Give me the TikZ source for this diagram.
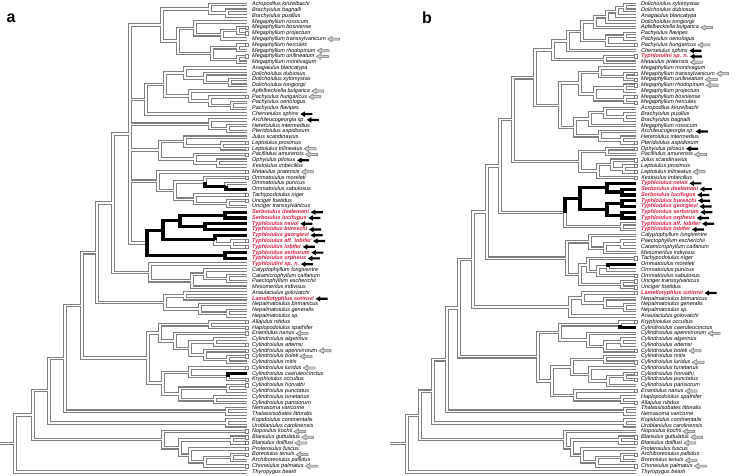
\documentclass[tikz,border=0pt]{standalone}
\usepackage{fontspec}
\setmainfont{Liberation Sans}
\usetikzlibrary{calc}
\definecolor{redlab}{RGB}{222,28,62}
\definecolor{brgray}{RGB}{128,128,128}
\newcommand\tnode[4]{\path let \p1=($(#3)!0.5!(#4)$) in coordinate (#1) at (#2pt,\y1);}
\newcommand\tedge[2]{\draw let \p1=(#1), \p2=(#2) in (\x1,\y1) -- (\x1,\y2) -- (\x2,\y2);}
\newcommand\tedges[3]{\tedge{#1}{#2}\tedge{#1}{#3}}
\newcommand\grayedgesL{%
\tedges{LB1}{a2}{a3}\tedges{LB2}{a1}{LB1}\tedges{LM3a}{a5}{a6}\tedges{LM3}{LM3a}{a7}\tedges{LM3g}{a4}{LM3}%
\tedges{LM4a}{a8}{a9}\tedges{LM4b}{a10}{a11}\tedges{LM4}{LM4a}{LM4b}\tedges{LMeg}{LM3g}{LM4}\tedges{Lc1}{LB2}{LMeg}%
\tedges{LD3}{a14}{a15}\tedges{LD2}{a13}{LD3}\tedges{LD1}{a12}{LD2}\tedges{LP3}{a18}{a19}\tedges{LP2}{a17}{LP3}%
\tedges{LP}{a16}{LP2}\tedges{LD}{LD1}{LP}\tedges{Lc2}{LD}{a20}\tedges{LH}{a22}{a23}\tedges{Lc3}{a21}{LH}%
\tedges{LL}{a25}{a26}\tedges{LJ}{a24}{LL}\tedges{LR}{a28}{a29}\tedges{LQ}{a27}{LR}\tedges{Lc4}{LJ}{LQ}%
\tedge{LOm2}{a32}\tedge{LOm}{a31}\tedges{LU}{a35}{a36}\tedges{LT}{a34}{LU}\tedges{LS}{LOm}{LT}\tedges{Lc5}{a30}{LS}%
\tedge{LTyG}{LTyL}\tedges{LTyL}{a42}{a43}%
\tedges{L130}{Lc1}{Lc2}\tedges{L130}{Lc3}{Lc4}\tedges{L130}{Lc5}{LTy}%
\tedges{LCal2}{a48}{a49}\tedges{LCal1}{a47}{LCal2}\tedges{LCal}{LCal1}{a50}\tedges{LY}{a46}{LCal}\tedges{L113}{L130}{LY}%
\tedges{LX1}{a51}{a52}\tedges{LN2}{a54}{a55}\tedges{LN}{a53}{LN2}\tedges{LX}{LX1}{LN}\tedges{L97}{L113}{LX}%
\tedges{LA}{a56}{a57}\tedges{LC1d}{a59}{a60}\tedges{LC1f}{a62}{a63}\tedges{LC1e}{a61}{LC1f}\tedges{LC1c}{LC1d}{LC1e}%
\tedges{LC1b}{a58}{LC1c}\tedges{LC1}{LA}{LC1b}\tedge{LC2b}{a66}\tedges{LC2a}{a64}{LC2b}\tedges{LC2d}{a67}{a68}%
\tedges{LC2e}{a69}{a70}\tedges{LC2c}{LC2d}{LC2e}\tedges{LC2}{LC2a}{LC2c}\tedges{LCyl}{LC1}{LC2}\tedges{L82}{L97}{LCyl}%
\tedges{LNT}{a71}{a72}\tedges{L65}{L82}{LNT}\tedges{LKU}{a73}{a74}\tedges{L49}{L65}{LKU}%
\tedges{LBl2}{a76}{a77}\tedges{LBl5}{a79}{a80}\tedges{LBl4}{LBl5}{a81}\tedges{LBl3}{a78}{LBl4}\tedges{LBl1}{LBl2}{LBl3}%
\tedges{LBlan}{a75}{LBl1}\tedges{L33}{L49}{LBlan}\tedges{Lroot}{L33}{a82}\draw (Lrs) -- (Lroot);%
}
\newcommand\grayedgesR{%
\tedges{RDg3}{b1}{b2}\tedges{RDg2}{RDg3}{b3}\tedges{RDg1}{RDg2}{b4}\tedges{RDg0}{RDg1}{b5}\tedges{RPa2}{b6}{b7}%
\tedges{RPa}{RPa2}{b8}\tedges{RDP}{RDg0}{RPa}\tedges{RDg}{RDP}{b9}\tedges{RTM}{b10}{b11}\tedges{RG1}{RDg}{RTM}%
\tedges{RMb}{b13}{b14}\tedges{RMa}{b12}{RMb}\tedges{RMd}{b15}{b16}\tedges{RMe}{b17}{b18}\tedges{RMc}{RMd}{RMe}%
\tedges{RMeg}{RMa}{RMc}\tedges{RBr2}{b20}{b21}\tedges{RBr1}{b19}{RBr2}\tedges{RBr}{RBr1}{b22}\tedges{RA2}{b24}{b25}%
\tedges{RA1}{b23}{RA2}\tedges{RBA}{RBr}{RA1}\tedges{RG2}{RMeg}{RBA}\tedges{RX8}{RG1}{RG2}%
\tedges{RO2}{b26}{b27}\tedges{RJ3}{b29}{b30}\tedges{RJ2}{b28}{RJ3}\tedges{RJ1}{RJ2}{b31}\tedges{RX9}{RO2}{RJ1}\tedges{R513}{RX8}{RX9}%
\tedge{RTy}{RTyL}\tedges{RTyL}{b39}{b40}\tedges{R500}{R513}{RTy}%
\tedges{RCa3}{b42}{b43}\tedges{RCa2}{RCa3}{b44}\tedges{RCa}{b41}{RCa2}\tedge{ROm1}{b47}\tedges{ROm}{ROm1}{b48}%
\tedges{RTo}{b45}{ROm}\tedges{RUn}{b49}{b50}\tedges{RTO}{RTo}{RUn}\tedges{RX6}{RCa}{RTO}\tedges{R487}{R500}{RX6}%
\tedges{RN2}{b53}{b54}\tedges{RN}{b52}{RN2}\tedges{RLa}{b51}{RN}\tedges{RX5}{RLa}{b55}\tedges{R473}{R487}{RX5}%
\tedge{RK}{b56}\tedges{RCy1d}{b59}{b60}\tedges{RCy1c}{RCy1d}{b61}\tedges{RCy1b}{b58}{RCy1c}\tedges{RCy1}{RK}{RCy1b}%
\tedges{RCy2a}{b62}{b63}\tedges{RCy2d}{b65}{b66}\tedges{RCy2c}{RCy2d}{b67}\tedges{RCy2b}{b64}{RCy2c}\tedges{RCy2}{RCy2a}{RCy2b}%
\tedges{RE2}{b69}{b70}\tedges{RE}{b68}{RE2}\tedges{RQ}{RCy2}{RE}\tedges{RX4}{RCy1}{RQ}\tedges{R459}{R473}{RX4}%
\tedges{RX3}{b71}{b72}\tedges{R447}{R459}{RX3}\tedges{RX2}{b73}{b74}\tedges{R433}{R447}{RX2}%
\tedges{RBl2}{b76}{b77}\tedges{RBl5}{b79}{b80}\tedges{RBl4}{RBl5}{b81}\tedges{RBl3}{b78}{RBl4}\tedges{RBl1}{RBl2}{RBl3}%
\tedges{RX1}{b75}{RBl1}\tedges{R420}{R433}{RX1}\tedges{Rroot}{R420}{b82}\draw (Rrs) -- (Rroot);%
}
\tikzset{
  labbase/.style={inner sep=0pt, anchor=west, text height=3.9pt, text depth=1.1pt},
  labn/.style={labbase, font=\fontsize{5.5}{6}\selectfont\itshape},
  labr/.style={labbase, font=\fontsize{5.5}{6}\selectfont\bfseries\itshape, text=redlab},
  sqmark/.style={draw=brgray, fill=white, line width=0.6pt, rectangle, minimum size=3.4pt, inner sep=0pt},
  panel/.style={font=\fontsize{16}{16}\selectfont\bfseries, inner sep=0pt},
  arrb/.pic={\fill[black] (0,0) -- (4.5,2.7) -- (4.5,1.1) -- (12,1.1) -- (12,-1.1) -- (4.5,-1.1) -- (4.5,-2.7) -- cycle;},
  arrg/.pic={\filldraw[fill=gray!40, draw=gray!90!black, line width=0.5pt] (0,0) -- (4.5,2.7) -- (4.5,1.1) -- (12,1.1) -- (12,-1.1) -- (4.5,-1.1) -- (4.5,-2.7) -- cycle;},
  arr0/.pic={}
}
\begin{document}
\begin{tikzpicture}[x=1pt,y=-1pt,line join=miter]
\useasboundingbox (0,0) rectangle (739,475);
\fill[white] (0,0) rectangle (739,475);
\foreach \k in {1,...,82}{
  \coordinate (a\k) at (247,{4.5+(\k-1)*5.77});
  \coordinate (b\k) at (636,{4.5+(\k-1)*5.77});
}
% ---------- left tree nodes
\tnode{LB1}{227}{a2}{a3}\tnode{LB2}{210}{a1}{LB1}
\tnode{LM3a}{238}{a5}{a6}\tnode{LM3}{222}{LM3a}{a7}\tnode{LM3g}{195}{a4}{LM3}
\tnode{LM4a}{238}{a8}{a9}\tnode{LM4b}{238}{a10}{a11}\tnode{LM4}{212}{LM4a}{LM4b}
\tnode{LMeg}{178}{LM3g}{LM4}\tnode{Lc1}{162}{LB2}{LMeg}
\tnode{LD3}{230}{a14}{a15}\tnode{LD2}{205}{a13}{LD3}\tnode{LD1}{185}{a12}{LD2}
\tnode{LP3}{232}{a18}{a19}\tnode{LP2}{210}{a17}{LP3}\tnode{LP}{190}{a16}{LP2}
\tnode{LD}{165}{LD1}{LP}\tnode{Lc2}{146}{LD}{a20}
\tnode{LH}{228}{a22}{a23}\tnode{Lc3}{210}{a21}{LH}
\tnode{LL}{222}{a25}{a26}\tnode{LJ}{185}{a24}{LL}\tnode{LR}{218}{a28}{a29}\tnode{LQ}{195}{a27}{LR}\tnode{Lc4}{160}{LJ}{LQ}
\tnode{LOm2}{226}{a32}{a33}\tnode{LOm}{205}{a31}{LOm2}\tnode{LU}{228}{a35}{a36}\tnode{LT}{195}{a34}{LU}
\tnode{LS}{175}{LOm}{LT}\tnode{Lc5}{158}{a30}{LS}
\tnode{LSB}{225}{a37}{a38}\tnode{LTyN}{205}{a39}{a40}\tnode{LTyA}{180}{LSB}{LTyN}
\tnode{LTyL}{232}{a42}{a43}\tnode{LTyG}{215}{a41}{LTyL}\tnode{LTyU}{163}{LTyA}{LTyG}
\tnode{LTyS}{225}{a44}{a45}\tnode{LTy}{147}{LTyU}{LTyS}
\tnode{L130}{130}{Lc1}{LTy}
\tnode{LCal2}{228}{a48}{a49}\tnode{LCal1}{205}{a47}{LCal2}\tnode{LCal}{192}{LCal1}{a50}\tnode{LY}{150}{a46}{LCal}
\tnode{L113}{113}{L130}{LY}
\tnode{LX1}{185}{a51}{a52}\tnode{LN2}{228}{a54}{a55}\tnode{LN}{200}{a53}{LN2}\tnode{LX}{165}{LX1}{LN}
\tnode{L97}{97}{L113}{LX}
\tnode{LA}{210}{a56}{a57}\tnode{LC1d}{215}{a59}{a60}\tnode{LC1f}{228}{a62}{a63}\tnode{LC1e}{205}{a61}{LC1f}
\tnode{LC1c}{190}{LC1d}{LC1e}\tnode{LC1b}{175}{a58}{LC1c}\tnode{LC1}{160}{LA}{LC1b}
\tnode{LC2b}{228}{a65}{a66}\tnode{LC2a}{190}{a64}{LC2b}\tnode{LC2d}{228}{a67}{a68}\tnode{LC2e}{215}{a69}{a70}
\tnode{LC2c}{180}{LC2d}{LC2e}\tnode{LC2}{163}{LC2a}{LC2c}\tnode{LCyl}{148}{LC1}{LC2}
\tnode{L82}{82}{L97}{LCyl}\tnode{LNT}{227}{a71}{a72}\tnode{L65}{65}{L82}{LNT}
\tnode{LKU}{227}{a73}{a74}\tnode{L49}{49}{L65}{LKU}
\tnode{LBl2}{232}{a76}{a77}\tnode{LBl5}{232}{a79}{a80}\tnode{LBl4}{205}{LBl5}{a81}\tnode{LBl3}{190}{a78}{LBl4}
\tnode{LBl1}{180}{LBl2}{LBl3}\tnode{LBlan}{163}{a75}{LBl1}
\tnode{L33}{33}{L49}{LBlan}\tnode{Lroot}{15}{L33}{a82}
\path let \p1=(Lroot) in coordinate (Lrs) at (0pt,\y1);
% ---------- right tree nodes
\tnode{RDg3}{625}{b1}{b2}\tnode{RDg2}{617}{RDg3}{b3}\tnode{RDg1}{607}{RDg2}{b4}\tnode{RDg0}{595}{RDg1}{b5}
\tnode{RPa2}{625}{b6}{b7}\tnode{RPa}{607}{RPa2}{b8}\tnode{RDP}{582}{RDg0}{RPa}\tnode{RDg}{568}{RDP}{b9}
\tnode{RTM}{605}{b10}{b11}\tnode{RG1}{553}{RDg}{RTM}
\tnode{RMb}{625}{b13}{b14}\tnode{RMa}{600}{b12}{RMb}\tnode{RMd}{625}{b15}{b16}\tnode{RMe}{625}{b17}{b18}
\tnode{RMc}{595}{RMd}{RMe}\tnode{RMeg}{580}{RMa}{RMc}
\tnode{RBr2}{625}{b20}{b21}\tnode{RBr1}{605}{b19}{RBr2}\tnode{RBr}{590}{RBr1}{b22}
\tnode{RA2}{622}{b24}{b25}\tnode{RA1}{600}{b23}{RA2}\tnode{RBA}{575}{RBr}{RA1}
\tnode{RG2}{560}{RMeg}{RBA}\tnode{RX8}{535}{RG1}{RG2}
\tnode{RO2}{607}{b26}{b27}\tnode{RJ3}{624}{b29}{b30}\tnode{RJ2}{612}{b28}{RJ3}\tnode{RJ1}{598}{RJ2}{b31}
\tnode{RX9}{580}{RO2}{RJ1}\tnode{R513}{513}{RX8}{RX9}
\tnode{RTyS}{622}{b33}{b34}\tnode{RTyB}{607}{b32}{RTyS}\tnode{RTyE}{622}{b35}{b36}\tnode{RTyD}{622}{b37}{b38}
\tnode{RTyC}{607}{RTyE}{RTyD}\tnode{RTyA}{580}{RTyB}{RTyC}\tnode{RTyL}{622}{b39}{b40}\tnode{RTy}{565}{RTyA}{RTyL}
\tnode{R500}{500}{R513}{RTy}
\tnode{RCa3}{622}{b42}{b43}\tnode{RCa2}{605}{RCa3}{b44}\tnode{RCa}{590}{b41}{RCa2}
\tnode{ROm1}{608}{b46}{b47}\tnode{ROm}{598}{ROm1}{b48}\tnode{RTo}{588}{b45}{ROm}\tnode{RUn}{622}{b49}{b50}
\tnode{RTO}{580}{RTo}{RUn}\tnode{RX6}{567}{RCa}{RTO}\tnode{R487}{487}{R500}{RX6}
\tnode{RN2}{625}{b53}{b54}\tnode{RN}{605}{b52}{RN2}\tnode{RLa}{583}{b51}{RN}\tnode{RX5}{570}{RLa}{b55}
\tnode{R473}{473}{R487}{RX5}
\tnode{RK}{620}{b56}{b57}\tnode{RCy1d}{622}{b59}{b60}\tnode{RCy1c}{605}{RCy1d}{b61}\tnode{RCy1b}{588}{b58}{RCy1c}
\tnode{RCy1}{560}{RK}{RCy1b}\tnode{RCy2a}{605}{b62}{b63}\tnode{RCy2d}{625}{b65}{b66}\tnode{RCy2c}{608}{RCy2d}{b67}
\tnode{RCy2b}{590}{b64}{RCy2c}\tnode{RCy2}{572}{RCy2a}{RCy2b}\tnode{RE2}{622}{b69}{b70}\tnode{RE}{575}{b68}{RE2}
\tnode{RQ}{552}{RCy2}{RE}\tnode{RX4}{538}{RCy1}{RQ}\tnode{R459}{459}{R473}{RX4}
\tnode{RX3}{625}{b71}{b72}\tnode{R447}{447}{R459}{RX3}\tnode{RX2}{625}{b73}{b74}\tnode{R433}{433}{R447}{RX2}
\tnode{RBl2}{620}{b76}{b77}\tnode{RBl5}{622}{b79}{b80}\tnode{RBl4}{597}{RBl5}{b81}\tnode{RBl3}{582}{b78}{RBl4}
\tnode{RBl1}{572}{RBl2}{RBl3}\tnode{RX1}{565}{b75}{RBl1}\tnode{R420}{420}{R433}{RX1}\tnode{Rroot}{407}{R420}{b82}
\path let \p1=(Rroot) in coordinate (Rrs) at (390pt,\y1);
% ---------- branches: outline pass, then inner pass
\begin{scope}[draw=brgray, line width=3.6pt]
  \grayedgesL \grayedgesR
\end{scope}
\begin{scope}[draw=white, line width=1.4pt]
  \grayedgesL \grayedgesR
\end{scope}
\begin{scope}[draw=black, line width=3.2pt]
  \tedges{LTy}{LTyU}{LTyS}\tedges{LTyS}{a44}{a45}\tedges{LTyU}{LTyA}{LTyG}\tedges{LTyA}{LSB}{LTyN}
  \tedges{LSB}{a37}{a38}\tedges{LTyN}{a39}{a40}\tedge{LTyG}{a41}\tedge{LOm}{LOm2}\tedge{LOm2}{a33}\tedge{LC2b}{a65}
  \tedge{RTy}{RTyA}\tedges{RTyA}{RTyB}{RTyC}\tedges{RTyB}{b32}{RTyS}\tedges{RTyS}{b33}{b34}
  \tedges{RTyC}{RTyE}{RTyD}\tedges{RTyE}{b35}{b36}\tedges{RTyD}{b37}{b38}\tedge{ROm1}{b46}\tedge{RK}{b57}
\end{scope}
% ---------- squares
\foreach \k in {5,6,8,10,17,25,26,27,30,31,34,35,42,43,56,57,58,60,61,62,64,66,67,75,76,77,78,79,81}
  \node[sqmark] (sqa\k) at (a\k) {};
\foreach \k in {8,10,13,14,15,17,18,25,26,28,29,30,31,45,48,49,50,51,56,61,63,65,66,68,70,76,77,79,81}
  \node[sqmark] (sqb\k) at (b\k) {};
% ---------- left labels
\foreach \k/\nm/\st/\ar in {1/Acropodilus kinzelbachi/n/0, 2/Brachyiulus bagnalli/n/0, 3/Brachyiulus pusillus/n/0,
 4/Megaphyllum rossicum/n/0, 5/Megaphyllum bosniense/n/0, 6/Megaphyllum projectum/n/0, 7/Megaphyllum transsylvanicum/n/g,
 8/Megaphyllum hercules/n/0, 9/Megaphyllum rhodopinum/n/g, 10/Megaphyllum unilineatum/n/g, 11/Megaphyllum montivagum/n/0,
 12/Anagaiulus blancatypa/n/0, 13/Dolichoiulus dubiosus/n/0, 14/Dolichoiulus xylomystax/n/0, 15/Dolichoiulus tongiorgii/n/0,
 16/Apfelbeckiella bulgarica/n/g, 17/Pachyiulus hungaricus/n/g, 18/Pachyiulus oenologus/n/0, 19/Pachyiulus flavipes/n/0,
 20/Cherseiulus sphinx/n/b, 21/Archileucogeorgia sp./n/b, 22/Heteroiulus intermedius/n/0, 23/Pteridoiulus aspidiorum/n/0,
 24/Julus scandinavius/n/0, 25/Leptoiulus proximus/n/0, 26/Leptoiulus trilineatus/n/g, 27/Pacifiiulus amurensis/n/g,
 28/Ophyiulus pilosus/n/b, 29/Xestoiulus imbecillus/n/0, 30/Metaiulus pratensis/n/g, 31/Ommatoiulus moreleti/n/0,
 32/Ommatoiulus punicus/n/0, 33/Ommatoiulus sabulosus/n/0, 34/Tachypodoiulus niger/n/0, 35/Unciger foetidus/n/0,
 36/Unciger transsylvanicus/n/0, 37/Serboiulus deelemani/r/b, 38/Serboiulus lucifugus/r/b, 39/Typhloiulus nevoi/r/b,
 40/Typhloiulus bureschi/r/b, 41/Typhloiulus georgievi/r/b, 42/Typhloiulus aff. lobifer/r/b, 43/Typhloiulus lobifer/r/b,
 44/Typhloiulus serborum/r/b, 45/Typhloiulus orpheus/r/b, 46/Typhloiulini sp. n./r/b, 47/Calyptophyllum longiventre/n/0,
 48/Catamicrophyllum caifanum/n/0, 49/Paectophyllum escherichii/n/0, 50/Mesomerilus indivisus/n/0,
 51/Anaulaciulus golovatchi/n/0, 52/Lamellotyphlus sotirovi/r/b, 53/Nepalmatoiulus birmanicus/n/0,
 54/Nepalmatoiulus generalis/n/0, 55/Nepalmatoiulus sp./n/0, 56/Allajulus nitidus/n/0, 57/Haplopodoiulus spathifer/n/0,
 58/Enantiulus nanus/n/g, 59/Cylindroiulus algerinus/n/0, 60/Cylindroiulus attemsi/n/0, 61/Cylindroiulus apenninorum/n/g,
 62/Cylindroiulus boleti/n/g, 63/Cylindroiulus mitis/n/0, 64/Cylindroiulus luridus/n/g, 65/Cylindroiulus caeruleocinctus/n/0,
 66/Kryphioiulus occultus/n/0, 67/Cylindroiulus horvathi/n/0, 68/Cylindroiulus punctatus/n/0, 69/Cylindroiulus tunetanus/n/0,
 70/Cylindroiulus parisiorum/n/0, 71/Nemasoma varicorne/n/0, 72/Thalassisobates littoralis/n/0,
 73/Kopidoiulus continentalis/n/0, 74/Uroblaniulus carolinensis/n/0, 75/Nopoiulus kochii/n/g, 76/Blaniulus guttulatus/n/g,
 77/Blaniulus dollfusi/n/g, 78/Proteroiulus fuscus/n/0, 79/Boreoiulus tenuis/n/g, 80/Archiboreoiulus pallidus/n/0,
 81/Choneiulus palmatus/n/g, 82/Thyropygus bearti/n/0}{
  \node[lab\st] (la\k) at ($(a\k)+(5,0)$) {\nm};
  \pic at ($(la\k.east)+(1.5,0)$) {arr\ar};
}
% ---------- right labels
\foreach \k/\nm/\st/\ar in {1/Dolichoiulus xylomystax/n/0, 2/Dolichoiulus dubiosus/n/0, 3/Anagaiulus blancatypa/n/0,
 4/Dolichoiulus tongiorgii/n/0, 5/Apfelbeckiella bulgarica/n/g, 6/Pachyiulus flavipes/n/0, 7/Pachyiulus oenologus/n/0,
 8/Pachyiulus hungaricus/n/g, 9/Cherseiulus sphinx/n/b, 10/Typhloiulini sp. n./r/b, 11/Metaiulus pratensis/n/g,
 12/Megaphyllum montivagum/n/0, 13/Megaphyllum transsylvanicum/n/g, 14/Megaphyllum unilineatum/n/g,
 15/Megaphyllum rhodopinum/n/g, 16/Megaphyllum projectum/n/0, 17/Megaphyllum bosniense/n/0, 18/Megaphyllum hercules/n/0,
 19/Acropodilus kinzelbachi/n/0, 20/Brachyiulus pusillus/n/0, 21/Brachyiulus bagnalli/n/0, 22/Megaphyllum rossicum/n/0,
 23/Archileucogeorgia sp./n/b, 24/Heteroiulus intermedius/n/0, 25/Pteridoiulus aspidiorum/n/0, 26/Ophyiulus pilosus/n/b,
 27/Pacifiiulus amurensis/n/g, 28/Julus scandinavius/n/0, 29/Leptoiulus proximus/n/0, 30/Leptoiulus trilineatus/n/g,
 31/Xestoiulus imbecillus/n/0, 32/Typhloiulus nevoi/r/b, 33/Serboiulus deelemani/r/b, 34/Serboiulus lucifugus/r/b,
 35/Typhloiulus bureschi/r/b, 36/Typhloiulus georgievi/r/b, 37/Typhloiulus serborum/r/b, 38/Typhloiulus orpheus/r/b,
 39/Typhloiulus aff. lobifer/r/b, 40/Typhloiulus lobifer/r/b, 41/Calyptophyllum longiventre/n/0,
 42/Paectophyllum escherichii/n/0, 43/Catamicrophyllum caifanum/n/0, 44/Mesomerilus indivisus/n/0,
 45/Tachypodoiulus niger/n/0, 46/Ommatoiulus moreleti/n/0, 47/Ommatoiulus punicus/n/0, 48/Ommatoiulus sabulosus/n/0,
 49/Unciger transsylvanicus/n/0, 50/Unciger foetidus/n/0, 51/Lamellotyphlus sotirovi/r/b, 52/Nepalmatoiulus birmanicus/n/0,
 53/Nepalmatoiulus generalis/n/0, 54/Nepalmatoiulus sp./n/0, 55/Anaulaciulus golovatchi/n/0, 56/Kryphioiulus occultus/n/0,
 57/Cylindroiulus caeruleocinctus/n/0, 58/Cylindroiulus apenninorum/n/g, 59/Cylindroiulus algerinus/n/0,
 60/Cylindroiulus attemsi/n/0, 61/Cylindroiulus boleti/n/g, 62/Cylindroiulus mitis/n/0, 63/Cylindroiulus luridus/n/g,
 64/Cylindroiulus tunetanus/n/0, 65/Cylindroiulus horvathi/n/0, 66/Cylindroiulus punctatus/n/0,
 67/Cylindroiulus parisiorum/n/0, 68/Enantiulus nanus/n/g, 69/Haplopodoiulus spathifer/n/0, 70/Allajulus nitidus/n/0,
 71/Thalassisobates littoralis/n/0, 72/Nemasoma varicorne/n/0, 73/Kopidoiulus continentalis/n/0,
 74/Uroblaniulus carolinensis/n/0, 75/Nopoiulus kochii/n/g, 76/Blaniulus guttulatus/n/g, 77/Blaniulus dollfusi/n/g,
 78/Proteroiulus fuscus/n/0, 79/Archiboreoiulus pallidus/n/0, 80/Boreoiulus tenuis/n/g, 81/Choneiulus palmatus/n/g,
 82/Thyropygus bearti/n/0}{
  \node[lab\st] (lb\k) at ($(b\k)+(5,0)$) {\nm};
  \pic at ($(lb\k.east)+(1.5,0)$) {arr\ar};
}
\node[panel] (pa) at (11,18) {a};
\node[panel] (pb) at (427,18) {b};
\end{tikzpicture}
\end{document}
